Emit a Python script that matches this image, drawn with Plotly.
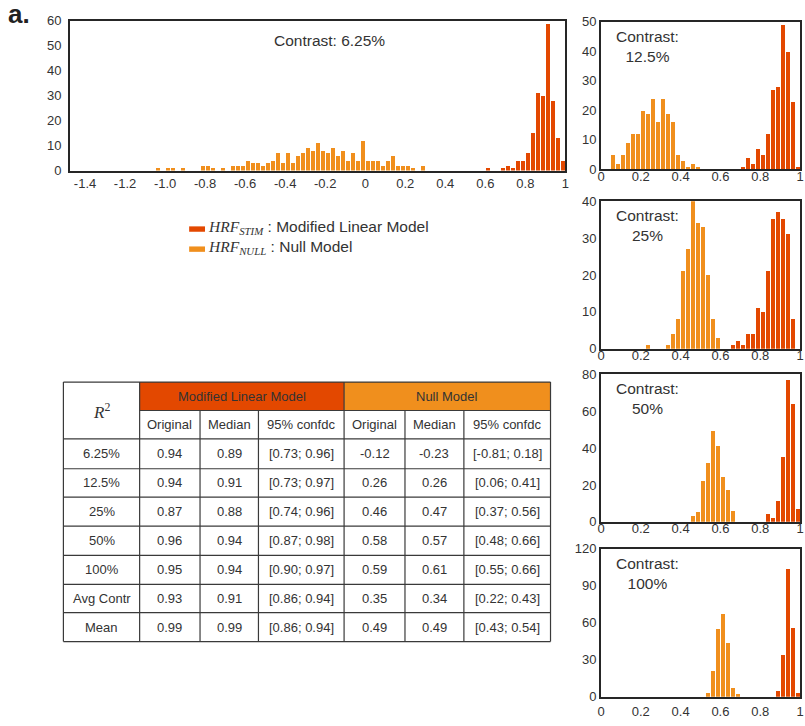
import plotly.graph_objects as go

W, H = 805, 726
BIN = 0.025  # histogram bin width

RED = "#E34800"
ORANGE = "#F08F1D"
INK = "#333333"
FRAME = "#262626"
SANS = "Arial, Liberation Sans, sans-serif"

# ---- bootstrap R^2 histograms: bin left edges and counts ----
# Contrast 6.25 %
c625_null_edges = [-1.05, -1.0, -0.975, -0.925, -0.825, -0.8, -0.775, -0.725,
                   -0.675, -0.65, -0.625, -0.6, -0.575, -0.55, -0.525, -0.5,
                   -0.475, -0.45, -0.425, -0.4, -0.375, -0.35, -0.325, -0.3,
                   -0.275, -0.25, -0.225, -0.2, -0.175, -0.15, -0.125, -0.1,
                   -0.075, -0.05, -0.025, 0.0, 0.025, 0.05, 0.075, 0.1,
                   0.125, 0.15, 0.175, 0.2, 0.225, 0.275]
c625_null_counts = [1, 1, 1, 1, 2, 2, 1, 1,
                    2, 2, 2, 4, 3, 3, 2, 3,
                    4, 7, 3, 7, 3, 6, 7, 9,
                    8, 11, 8, 7, 9, 6, 8, 4,
                    7, 4, 12, 4, 4, 4, 2, 4,
                    6, 2, 2, 2, 1, 2]
c625_stim_edges = [0.6, 0.675, 0.7, 0.725, 0.75, 0.775, 0.8, 0.825, 0.85,
                   0.875, 0.9, 0.925, 0.95, 0.975]
c625_stim_counts = [1, 1, 2, 1, 4, 4, 7, 15, 31, 30, 59, 28, 13, 4]

# Contrast 12.5 %
c125_null_edges = [0.05, 0.075, 0.1, 0.125, 0.15, 0.175, 0.2, 0.225, 0.25,
                   0.275, 0.3, 0.325, 0.35, 0.375, 0.4, 0.425, 0.45, 0.475]
c125_null_counts = [5, 2, 5, 9, 12, 12, 20, 19, 24, 16, 24, 19, 16, 5, 3, 1, 2, 1]
c125_stim_edges = [0.7, 0.725, 0.75, 0.775, 0.8, 0.825, 0.85, 0.875, 0.9,
                   0.925, 0.95, 0.975]
c125_stim_counts = [1, 4, 2, 7, 5, 12, 27, 28, 49, 40, 23, 1]

# Contrast 25 %
c25_null_edges = [0.225, 0.325, 0.35, 0.375, 0.4, 0.425, 0.45, 0.475, 0.5,
                  0.525, 0.55, 0.575]
c25_null_counts = [1, 1, 4, 8, 21, 27, 40, 34, 33, 20, 8, 3]
c25_stim_edges = [0.65, 0.675, 0.7, 0.725, 0.75, 0.775, 0.8, 0.825, 0.85,
                  0.875, 0.9, 0.925, 0.95]
c25_stim_counts = [1, 2, 1, 4, 4, 11, 10, 21, 35, 37, 35, 31, 8]

# Contrast 50 %
c50_null_edges = [0.45, 0.475, 0.5, 0.525, 0.55, 0.575, 0.6, 0.625, 0.65]
c50_null_counts = [3, 5, 22, 32, 49, 41, 24, 17, 6]
c50_stim_edges = [0.825, 0.85, 0.875, 0.9, 0.925, 0.95, 0.975]
c50_stim_counts = [4, 2, 11, 35, 77, 64, 7]

# Contrast 100 %
c100_null_edges = [0.525, 0.55, 0.575, 0.6, 0.625, 0.65, 0.675]
c100_null_counts = [3, 21, 55, 67, 44, 7, 2]
c100_stim_edges = [0.875, 0.9, 0.925, 0.95, 0.975]
c100_stim_counts = [5, 34, 104, 56, 3]

# ---- axis ticks ----
main_xticks = [-1.4, -1.2, -1.0, -0.8, -0.6, -0.4, -0.2, 0, 0.2, 0.4, 0.6, 0.8, 1]
main_xticklabels = ["-1.4", "-1.2", "-1.0", "-0.8", "-0.6", "-0.4", "-0.2",
                    "0", "0.2", "0.4", "0.6", "0.8", "1"]
main_yticks = [0, 10, 20, 30, 40, 50, 60]
small_xticks = [0, 0.2, 0.4, 0.6, 0.8, 1]
small_xticklabels = ["0", "0.2", "0.4", "0.6", "0.8", "1"]
panel_titles = ["12.5%", "25%", "50%", "100%"]
panel_yticks = [[0, 10, 20, 30, 40, 50],
                [0, 10, 20, 30, 40],
                [0, 20, 40, 60, 80],
                [0, 30, 60, 90, 120]]

# ---- summary table ----
table_row_labels = ["6.25%", "12.5%", "25%", "50%", "100%", "Avg Contr", "Mean"]
table_groups = ["Modified Linear Model", "Null Model"]
table_subheaders = ["Original", "Median", "95% confdc"]
mlm_original = ["0.94", "0.94", "0.87", "0.96", "0.95", "0.93", "0.99"]
mlm_median = ["0.89", "0.91", "0.88", "0.94", "0.94", "0.91", "0.99"]
mlm_ci = ["[0.73; 0.96]", "[0.73; 0.97]", "[0.74; 0.96]", "[0.87; 0.98]",
          "[0.90; 0.97]", "[0.86; 0.94]", "[0.86; 0.94]"]
null_original = ["-0.12", "0.26", "0.46", "0.58", "0.59", "0.35", "0.49"]
null_median = ["-0.23", "0.26", "0.47", "0.57", "0.61", "0.34", "0.49"]
null_ci = ["[-0.81; 0.18]", "[0.06; 0.41]", "[0.37; 0.56]", "[0.48; 0.66]",
           "[0.55; 0.66]", "[0.22; 0.43]", "[0.43; 0.54]"]


def px(x):
    return x / W


def py(y):
    return 1 - y / H


fig = go.Figure()

# subplot boxes in pixels: (left, right, top, bottom)
boxes = [
    (66.7, 567, 14, 167),
    (603, 804, 15, 165.7),
    (603, 804, 198.3, 349),
    (603, 804, 375, 525.7),
    (603, 804, 553.3, 704.3),
]
# distance of the small panels' x tick labels from their frames
panel_label_standoff = [-6, -6, -6, 2]

hists = [
    (c625_null_edges, c625_null_counts, c625_stim_edges, c625_stim_counts),
    (c125_null_edges, c125_null_counts, c125_stim_edges, c125_stim_counts),
    (c25_null_edges, c25_null_counts, c25_stim_edges, c25_stim_counts),
    (c50_null_edges, c50_null_counts, c50_stim_edges, c50_stim_counts),
    (c100_null_edges, c100_null_counts, c100_stim_edges, c100_stim_counts),
]

for i, (ne, nc, se, sc) in enumerate(hists):
    sfx = "" if i == 0 else str(i + 1)
    for edges, counts, color in ((ne, nc, ORANGE), (se, sc, RED)):
        fig.add_trace(go.Bar(
            x=[e + BIN / 2 for e in edges], y=counts, width=BIN * 0.8,
            marker=dict(color=color, line=dict(width=0)),
            xaxis="x" + sfx, yaxis="y" + sfx, showlegend=False,
        ))

common_axis = dict(
    showgrid=False, zeroline=False, showline=True, mirror=True,
    linecolor=FRAME, linewidth=2, ticks="",
    tickfont=dict(family=SANS, size=13, color=INK), fixedrange=True,
)

layout = dict(
    width=W, height=H, margin=dict(l=0, r=0, t=0, b=0),
    paper_bgcolor="white", plot_bgcolor="white",
    barmode="overlay", bargap=0, showlegend=False,
)

for i, (l, r, t, b) in enumerate(boxes):
    sfx = "" if i == 0 else str(i + 1)
    xa = dict(common_axis, domain=[px(l), px(r)], anchor="y" + sfx)
    ya = dict(common_axis, domain=[py(b), py(t)], anchor="x" + sfx)
    if i == 0:
        xa.update(range=[-1.475, 1.0], tickvals=main_xticks,
                  ticktext=main_xticklabels, ticklabelstandoff=0)
        ya.update(range=[0, 60], tickvals=main_yticks, ticklabelstandoff=4)
    else:
        yt = panel_yticks[i - 1]
        xa.update(range=[0, 1.0], tickvals=small_xticks,
                  ticktext=small_xticklabels,
                  ticklabelstandoff=panel_label_standoff[i - 1])
        ya.update(range=[0, yt[-1]], tickvals=yt, ticklabelstandoff=0)
    layout["xaxis" + sfx] = xa
    layout["yaxis" + sfx] = ya

fig.update_layout(**layout)

annotations = []
shapes = []


def text(x, y, s, size=13, color=INK, family=SANS, xanchor="center", yanchor="middle"):
    annotations.append(dict(
        x=px(x), y=py(y), xref="paper", yref="paper", text=s, showarrow=False,
        xanchor=xanchor, yanchor=yanchor,
        font=dict(family=family, size=size, color=color),
    ))


# panel label
text(2, 7, "<b>a.</b>", size=26, color="#222222", xanchor="left")

# contrast captions
text(329, 34, "Contrast: 6.25%", size=15.5)
for (l, r, t, b), title in zip(boxes[1:], panel_titles):
    text(650, t + 25, "Contrast:<br>" + title, size=15.5)

# legend
shapes.append(dict(type="rect", xref="paper", yref="paper",
                   x0=px(187), x1=px(203), y0=py(229.5), y1=py(224),
                   fillcolor=RED, line=dict(width=0)))
shapes.append(dict(type="rect", xref="paper", yref="paper",
                   x0=px(187), x1=px(203), y0=py(250), y1=py(244.5),
                   fillcolor=ORANGE, line=dict(width=0)))
hrf = ('<span style="font-family:Liberation Serif"><i>HRF</i>'
       '<sub><i>{}</i></sub></span>')
text(204, 225.5, hrf.format("STIM") + " : Modified Linear Model", size=15.5,
     xanchor="left")
text(204, 245.5, hrf.format("NULL") + " : Null Model", size=15.5, xanchor="left")

# ---- table ----
col_x = [60, 137, 198, 257, 343.5, 405, 464.5, 552]
row_y = [383, 412, 441, 471.5, 500.5, 530, 560, 589.5, 618.5, 648]
GRID = "#3a3a3a"


def hline(y, x0, x1):
    shapes.append(dict(type="line", xref="paper", yref="paper",
                       x0=px(x0), x1=px(x1), y0=py(y), y1=py(y),
                       line=dict(color=GRID, width=1.2)))


def vline(x, y0, y1):
    shapes.append(dict(type="line", xref="paper", yref="paper",
                       x0=px(x), x1=px(x), y0=py(y0), y1=py(y1),
                       line=dict(color=GRID, width=1.2)))


# group header fills
for (c0, c1), color in zip(((1, 4), (4, 7)), (RED, ORANGE)):
    shapes.append(dict(type="rect", xref="paper", yref="paper",
                       x0=px(col_x[c0]), x1=px(col_x[c1]),
                       y0=py(row_y[1]), y1=py(row_y[0]),
                       fillcolor=color, line=dict(width=0)))

hline(row_y[0], col_x[0], col_x[-1])
hline(row_y[1], col_x[1], col_x[-1])
for y in row_y[2:]:
    hline(y, col_x[0], col_x[-1])
for j, x in enumerate(col_x):
    if j in (0, 1, 4, 7):
        vline(x, row_y[0], row_y[-1])
    else:
        vline(x, row_y[1], row_y[-1])


def cx(j):
    return (col_x[j] + col_x[j + 1]) / 2


def cy(k):
    return (row_y[k] + row_y[k + 1]) / 2


text(cx(0), row_y[1] + 1, '<span style="font-family:Liberation Serif"><i>R</i><sup>2</sup></span>',
     size=17)
text((col_x[1] + col_x[4]) / 2, cy(0), table_groups[0], size=13)
text((col_x[4] + col_x[7]) / 2, cy(0), table_groups[1], size=13)
for g in range(2):
    for k, h in enumerate(table_subheaders):
        text(cx(1 + 3 * g + k), cy(1), h, size=13)

columns = [table_row_labels, mlm_original, mlm_median, mlm_ci,
           null_original, null_median, null_ci]
for j, col in enumerate(columns):
    for r, val in enumerate(col):
        text(cx(j), cy(r + 2), val, size=13)

fig.update_layout(annotations=annotations, shapes=shapes)
fig.write_html("out.html")
